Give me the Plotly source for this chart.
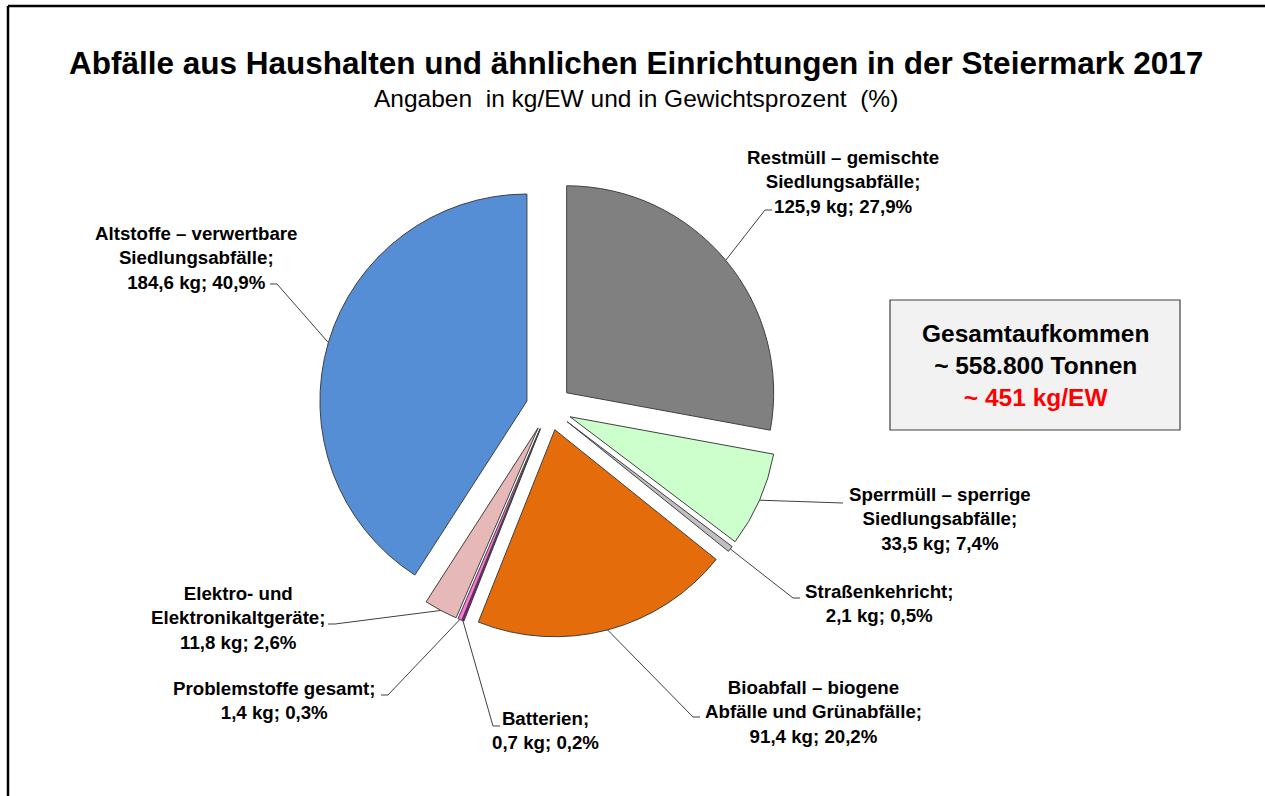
import math
import plotly.graph_objects as go

# ---------------- data ----------------
categories = [
    "Restmüll – gemischte Siedlungsabfälle",
    "Sperrmüll – sperrige Siedlungsabfälle",
    "Straßenkehricht",
    "Bioabfall – biogene Abfälle und Grünabfälle",
    "Batterien",
    "Problemstoffe gesamt",
    "Elektro- und Elektronikaltgeräte",
    "Altstoffe – verwertbare Siedlungsabfälle",
]
values_kg = [125.9, 33.5, 2.1, 91.4, 0.7, 1.4, 11.8, 184.6]
percent_labels = ["27,9%", "7,4%", "0,5%", "20,2%", "0,2%", "0,3%", "2,6%", "40,9%"]
kg_labels = ["125,9 kg", "33,5 kg", "2,1 kg", "91,4 kg", "0,7 kg", "1,4 kg", "11,8 kg", "184,6 kg"]
label_names = [
    "Restmüll – gemischte<br>Siedlungsabfälle;",
    "Sperrmüll – sperrige<br>Siedlungsabfälle;",
    "Straßenkehricht;",
    "Bioabfall – biogene<br>Abfälle und Grünabfälle;",
    "Batterien;",
    "Problemstoffe gesamt;",
    "Elektro- und<br>Elektronikaltgeräte;",
    "Altstoffe – verwertbare<br>Siedlungsabfälle;",
]
colors = ["#808080", "#CCFFCC", "#C0C0C0", "#E46C0A", "#A000A0", "#FF77D9", "#E6B9B8", "#558ED5"]

title_text = "Abfälle aus Haushalten und ähnlichen Einrichtungen in der Steiermark 2017"
subtitle_text = "Angaben  in kg/EW und in Gewichtsprozent  (%)"
box_lines = ["Gesamtaufkommen", "~ 558.800 Tonnen", "~ 451 kg/EW"]

# ---------------- layout (pixels) ----------------
W, H = 1265, 796
PIE_CX, PIE_CY, PIE_R = 549.0, 407.5, 207.0
PULL_PX = 23.0
PULL = PULL_PX / PIE_R

# label block centers (px)
label_pos = [(843, 182), (940, 519), (879, 603), (814, 712),
             (545, 730), (274, 700), (238, 618), (196, 258)]
# leader line elbow and end points (px)
leader_pts = [
    [(765, 210), (772, 210)],
    [(843, 503)],
    [(793, 598), (800, 598)],
    [(693, 717), (700, 717)],
    [(493, 726), (500, 726)],
    [(388, 695), (381, 695)],
    [(335, 624), (328, 624)],
    [(277, 284), (270, 284)],
]

def px(x):
    return x / W

def py(y):
    return 1 - y / H

half = PIE_R * (1 + PULL)
dom_x = [px(PIE_CX - half), px(PIE_CX + half)]
dom_y = [py(PIE_CY + half), py(PIE_CY - half)]

fig = go.Figure(go.Pie(
    labels=categories,
    values=values_kg,
    sort=False,
    direction="clockwise",
    rotation=0,
    pull=[PULL] * len(values_kg),
    marker=dict(colors=colors, line=dict(color="#404040", width=1)),
    textinfo="none",
    hoverinfo="label+value+percent",
    domain=dict(x=dom_x, y=dom_y),
    showlegend=False,
))

# ---------------- leader lines from slice midpoints ----------------
total = sum(values_kg)
shapes = []
cum = 0.0
for i, v in enumerate(values_kg):
    mid = (cum + v / 2) / total * 2 * math.pi
    cum += v
    dist = PULL_PX + PIE_R
    ax = PIE_CX + dist * math.sin(mid)
    ay = PIE_CY - dist * math.cos(mid)
    pts = [(ax, ay)] + leader_pts[i]
    path = "M " + " L ".join(f"{px(x):.5f},{py(y):.5f}" for x, y in pts)
    shapes.append(dict(type="path", xref="paper", yref="paper", path=path,
                       line=dict(color="#404040", width=1)))

# frame lines (top and left)
shapes.append(dict(type="line", xref="paper", yref="paper", x0=px(8), x1=1.01, y0=py(6), y1=py(6),
                   line=dict(color="black", width=2.5)))
shapes.append(dict(type="line", xref="paper", yref="paper", x0=px(8), x1=px(8), y0=py(6), y1=-0.01,
                   line=dict(color="black", width=2.5)))
# info box
shapes.append(dict(type="rect", xref="paper", yref="paper", x0=px(890), x1=px(1180), y0=py(430), y1=py(300),
                   fillcolor="#F2F2F2", line=dict(color="#404040", width=1.2)))

FONT = "Liberation Sans, Arial, sans-serif"
LABEL_FONT = dict(family=FONT, size=18.7, color="black")
annotations = []
for i in range(len(values_kg)):
    txt = f"<b>{label_names[i]}<br>{kg_labels[i]}; {percent_labels[i]}</b>"
    annotations.append(dict(x=px(label_pos[i][0]), y=py(label_pos[i][1]), xref="paper", yref="paper",
                            text=txt, showarrow=False, align="center", xanchor="center", yanchor="middle",
                            font=LABEL_FONT))

annotations.append(dict(x=px(636), y=py(63), xref="paper", yref="paper", text=f"<b>{title_text}</b>",
                        showarrow=False, xanchor="center", yanchor="middle",
                        font=dict(family=FONT, size=31.5, color="black")))
annotations.append(dict(x=px(636), y=py(98), xref="paper", yref="paper", text=subtitle_text,
                        showarrow=False, xanchor="center", yanchor="middle",
                        font=dict(family=FONT, size=24.5, color="black")))
annotations.append(dict(x=px(1035), y=py(365), xref="paper", yref="paper",
                        text=f"<b>{box_lines[0]}<br>{box_lines[1]}<br><span style='color:#FF0000'>{box_lines[2]}</span></b>",
                        showarrow=False, xanchor="center", yanchor="middle", align="center",
                        font=dict(family=FONT, size=24.5, color="black")))

fig.update_layout(
    width=W, height=H, autosize=False,
    margin=dict(l=0, r=0, t=0, b=0),
    paper_bgcolor="white", plot_bgcolor="white",
    shapes=shapes, annotations=annotations,
)

fig.write_html("out.html", config={"displayModeBar": False},
               post_script="document.body.style.margin='0';document.body.style.overflow='hidden';")
